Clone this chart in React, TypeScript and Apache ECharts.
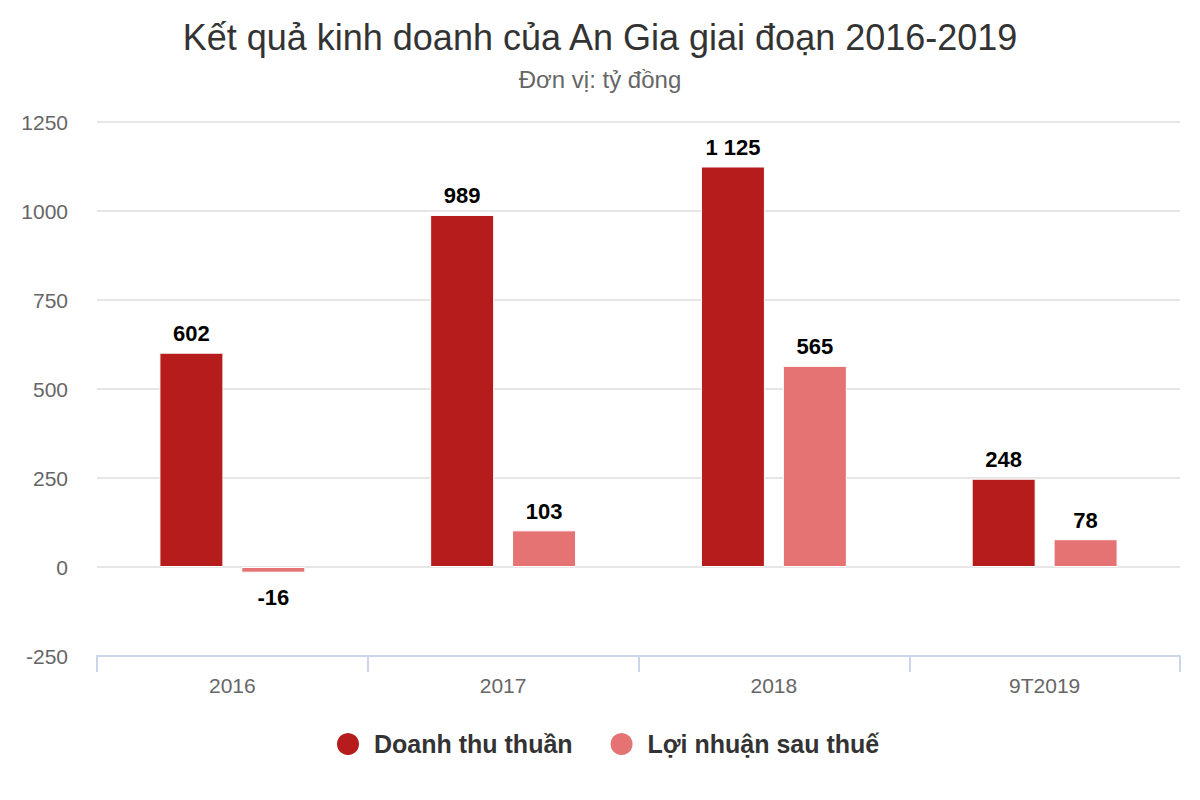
import React, { useEffect, useRef } from "react";
import * as echarts from "echarts";

const categories = ["2016", "2017", "2018", "9T2019"];
const revenue = [602, 989, 1125, 248];
const profit = [-16, 103, 565, 78];
const seriesNames = ["Doanh thu thuần", "Lợi nhuận sau thuế"];
const colors = ["#B71C1C", "#E57373"];

const FONT = "'Liberation Sans', Arial, sans-serif";

const fmt = (v: number) => String(v).replace(/\B(?=(\d{3})+(?!\d))/g, " ");

export default function App() {
  const ref = useRef<HTMLDivElement>(null);
  useEffect(() => {
    if (!ref.current) return;
    const chart = echarts.init(ref.current, undefined, { renderer: "svg" });
    const labelStyle = {
      show: true,
      position: "top",
      distance: 8,
      fontSize: 22,
      fontWeight: "bold",
      color: "#000",
      fontFamily: FONT,
      formatter: (p: any) => fmt(p.value),
    };
    const mkData = (arr: number[]) =>
      arr.map((v) => (v < 0 ? { value: v, label: { position: "bottom", distance: 14 } } : v));
    chart.setOption({
      animation: false,
      textStyle: { fontFamily: FONT },
      title: {
        text: "Kết quả kinh doanh của An Gia giai đoạn 2016-2019",
        subtext: "Đơn vị: tỷ đồng",
        left: "center",
        top: 14,
        itemGap: 12,
        textStyle: { fontSize: 36, fontWeight: "normal", color: "#333", fontFamily: FONT },
        subtextStyle: { fontSize: 24, color: "#666", fontFamily: FONT },
      },
      legend: {
        bottom: 38,
        left: 330,
        icon: "circle",
        itemWidth: 24,
        itemHeight: 24,
        itemGap: 36,
        textStyle: {
          fontSize: 25,
          fontWeight: "bold",
          color: "#333",
          fontFamily: FONT,
          padding: [0, 0, 0, 9],
        },
        data: seriesNames,
      },
      grid: { left: 97, right: 20, top: 122, bottom: 144, containLabel: false },
      xAxis: {
        type: "category",
        data: categories,
        axisLine: { onZero: false, lineStyle: { color: "#ccd6eb", width: 2 } },
        axisTick: { show: true, length: 16, lineStyle: { color: "#ccd6eb", width: 2 } },
        axisLabel: { fontSize: 21, color: "#666", margin: 19, fontFamily: FONT },
      },
      yAxis: {
        type: "value",
        min: -250,
        max: 1250,
        interval: 250,
        axisLine: { show: false },
        axisTick: { show: false },
        axisLabel: {
          fontSize: 21,
          color: "#666",
          margin: 29,
          fontFamily: FONT,
          formatter: (v: number) => String(v),
        },
        splitLine: { lineStyle: { color: "#e6e6e6", width: 2 } },
      },
      series: [
        {
          name: seriesNames[0],
          type: "bar",
          data: mkData(revenue),
          barWidth: 64,
          barGap: "28%",
          itemStyle: { color: colors[0], borderColor: "#fff", borderWidth: 1 },
          label: labelStyle,
        },
        {
          name: seriesNames[1],
          type: "bar",
          data: mkData(profit),
          barWidth: 64,
          barGap: "28%",
          itemStyle: { color: colors[1], borderColor: "#fff", borderWidth: 1 },
          label: labelStyle,
        },
      ],
    });
    return () => chart.dispose();
  }, []);
  return (
    <div
      ref={ref}
      style={{ position: "fixed", left: 0, top: 0, width: 1200, height: 800, background: "#fff" }}
    />
  );
}
